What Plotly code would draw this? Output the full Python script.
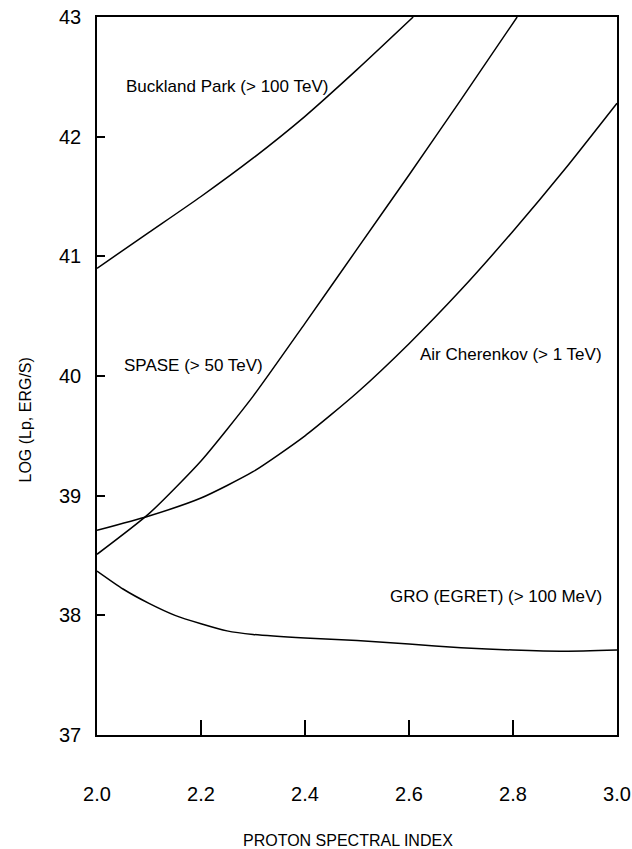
import plotly.graph_objects as go

# Data
buckland_x = [2.0, 2.1, 2.2, 2.3, 2.4, 2.5, 2.608]
buckland_y = [40.9, 41.2, 41.5, 41.82, 42.17, 42.56, 43.0]

spase_x = [2.0, 2.1, 2.2, 2.3, 2.4, 2.5, 2.6, 2.7, 2.808]
spase_y = [38.51, 38.85, 39.29, 39.83, 40.44, 41.06, 41.68, 42.31, 43.0]

air_x = [2.0, 2.1, 2.2, 2.3, 2.4, 2.5, 2.6, 2.7, 2.8, 2.9, 3.0]
air_y = [38.71, 38.83, 38.98, 39.2, 39.5, 39.86, 40.27, 40.72, 41.21, 41.73, 42.28]

gro_x = [2.0, 2.05, 2.1, 2.15, 2.2, 2.25, 2.3, 2.4, 2.5, 2.6, 2.7, 2.8, 2.9, 3.0]
gro_y = [38.37, 38.22, 38.1, 38.0, 37.93, 37.87, 37.84, 37.81, 37.79, 37.76, 37.73, 37.71, 37.70, 37.71]

labels = ["Buckland Park (> 100 TeV)", "SPASE (> 50 TeV)", "Air Cherenkov (> 1 TeV)", "GRO (EGRET) (> 100 MeV)"]
label_x = [2.052, 2.048, 2.617, 2.56]
label_y = [42.42, 40.09, 40.18, 38.155]

x_ticks = [2.0, 2.2, 2.4, 2.6, 2.8, 3.0]
x_ticktext = ["2.0", "2.2", "2.4", "2.6", "2.8", "3.0"]
y_ticks = [37, 38, 39, 40, 41, 42, 43]

FONT = "Liberation Sans, Arial, sans-serif"

fig = go.Figure()
for xs, ys in [(buckland_x, buckland_y), (spase_x, spase_y), (air_x, air_y), (gro_x, gro_y)]:
    fig.add_trace(go.Scatter(x=xs, y=ys, mode="lines",
                             line=dict(color="black", width=1.5, shape="spline", smoothing=0.6),
                             showlegend=False, hoverinfo="skip"))

for t, lx, ly in zip(labels, label_x, label_y):
    fig.add_annotation(x=lx, y=ly, text=t, showarrow=False, xanchor="left", yanchor="middle",
                       font=dict(family=FONT, size=17, color="black"))

fig.add_annotation(xref="paper", yref="paper", x=0.483, y=0, yshift=-105, text="PROTON SPECTRAL INDEX",
                   showarrow=False, xanchor="center", yanchor="middle",
                   font=dict(family=FONT, size=16, color="black"))
fig.add_annotation(xref="paper", yref="paper", x=0, xshift=-71, y=0.438, text="LOG (Lp, ERG/S)",
                   textangle=-90, showarrow=False, xanchor="center", yanchor="middle",
                   font=dict(family=FONT, size=16, color="black"))

fig.update_layout(
    width=632, height=849,
    margin=dict(l=97, r=15, t=17, b=114, autoexpand=False),
    paper_bgcolor="white", plot_bgcolor="white",
    font=dict(family=FONT, size=20, color="black"),
)
fig.update_xaxes(range=[2.0, 3.0], tickvals=x_ticks, ticktext=x_ticktext,
                 ticks="inside", ticklen=15, tickwidth=1.5, tickcolor="black",
                 showline=True, linecolor="black", linewidth=1.5, mirror=True,
                 showgrid=False, zeroline=False, ticklabelstandoff=40, automargin=False,
                 tickfont=dict(family=FONT, size=20, color="black"))
fig.update_yaxes(range=[37, 43], tickvals=y_ticks,
                 ticks="inside", ticklen=8, tickwidth=1.5, tickcolor="black",
                 showline=True, linecolor="black", linewidth=1.5, mirror=True,
                 showgrid=False, zeroline=False, ticklabelstandoff=10, automargin=False,
                 tickfont=dict(family=FONT, size=20, color="black"))

fig.write_html("out.html", config={"displayModeBar": False},
               post_script="document.body.style.margin='0';")
